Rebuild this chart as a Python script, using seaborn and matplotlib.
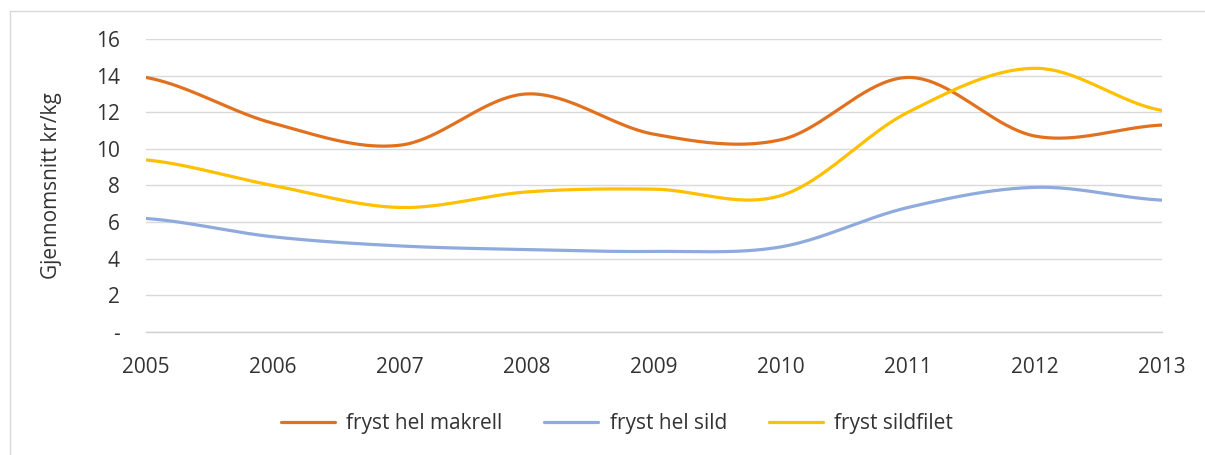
import numpy as np
import pandas as pd
import matplotlib
matplotlib.use("Agg")
import matplotlib.pyplot as plt
import seaborn as sns
from matplotlib.lines import Line2D

# Data
years = [2005, 2006, 2007, 2008, 2009, 2010, 2011, 2012, 2013]
makrell = [13.9, 11.4, 10.2, 13.0, 10.8, 10.5, 13.9, 10.7, 11.3]
sild = [6.2, 5.2, 4.7, 4.5, 4.4, 4.65, 6.8, 7.9, 7.2]
sildfilet = [9.4, 8.0, 6.8, 7.65, 7.8, 7.45, 12.0, 14.4, 12.1]
series_names = ["fryst hel makrell", "fryst hel sild", "fryst sildfilet"]
y_ticks = [0, 2, 4, 6, 8, 10, 12, 14, 16]
y_ticklabels = ["-", "2", "4", "6", "8", "10", "12", "14", "16"]
colors = ["#E2711F", "#8FAADC", "#FFC000"]


def smooth(x, y, n=40):
    # Excel-style smoothed line (Catmull-Rom / cubic Bezier through the points)
    x = np.asarray(x, float)
    y = np.asarray(y, float)
    px = np.concatenate([[2 * x[0] - x[1]], x, [2 * x[-1] - x[-2]]])
    py = np.concatenate([[y[0]], y, [y[-1]]])
    xs, ys = [], []
    t = np.linspace(0, 1, n, endpoint=False)
    for i in range(1, len(x)):
        x0, x1, x2, x3 = px[i - 1], px[i], px[i + 1], px[i + 2]
        y0, y1, y2, y3 = py[i - 1], py[i], py[i + 1], py[i + 2]
        c1x, c1y = x1 + (x2 - x0) / 6, y1 + (y2 - y0) / 6
        c2x, c2y = x2 - (x3 - x1) / 6, y2 - (y3 - y1) / 6
        b = [(1 - t) ** 3, 3 * (1 - t) ** 2 * t, 3 * (1 - t) * t ** 2, t ** 3]
        xs.append(b[0] * x1 + b[1] * c1x + b[2] * c2x + b[3] * x2)
        ys.append(b[0] * y1 + b[1] * c1y + b[2] * c2y + b[3] * y2)
    xs.append([x[-1]])
    ys.append([y[-1]])
    return np.concatenate(xs), np.concatenate(ys)


sns.set_style("white")
plt.rcParams["font.family"] = ["Open Sans", "DejaVu Sans"]
text_color = "#333333"
fs = 15

fig = plt.figure(figsize=(12.05, 4.55), dpi=100)
ax = fig.add_axes([146 / 1205, 1 - 332 / 455, (1162 - 146) / 1205, (332 - 39) / 455])

frames = []
for name, vals in zip(series_names, [makrell, sild, sildfilet]):
    sx, sy = smooth(years, vals)
    frames.append(pd.DataFrame({"year": sx, "value": sy, "series": name}))
df = pd.concat(frames, ignore_index=True)

sns.lineplot(data=df, x="year", y="value", hue="series", palette=colors,
             hue_order=series_names, linewidth=2.3, sort=False, ax=ax, legend=False)

ax.set_xlim(years[0], years[-1])
ax.set_ylim(0, 16)
ax.set_xticks(years)
ax.set_xticklabels([str(y) for y in years])
ax.set_yticks(y_ticks)
ax.set_yticklabels(y_ticklabels)
ax.tick_params(axis="both", length=0, labelsize=fs, colors=text_color)
ax.tick_params(axis="y", pad=19)
ax.tick_params(axis="x", pad=18)
ax.grid(axis="y", color="#D9D9D9", linewidth=1.0)
ax.set_axisbelow(True)
for s in ["left", "right", "top"]:
    ax.spines[s].set_visible(False)
ax.spines["bottom"].set_color("#D0D0D0")
ax.spines["bottom"].set_linewidth(1.0)
ax.set_xlabel("")
ax.set_ylabel("Gjennomsnitt kr/kg", fontsize=fs, color=text_color)
ax.yaxis.set_label_coords(-0.083, 0.5)

handles = [Line2D([0], [0], color=c, linewidth=2.3) for c in colors]
fig.legend(handles, series_names, loc="center", bbox_to_anchor=(0.512, 1 - 424 / 455),
           ncol=3, frameon=False, fontsize=fs, handlelength=2.6, handletextpad=0.55,
           columnspacing=2.0, labelcolor=text_color)

# outer chart border (top and left edges visible)
fig.add_artist(Line2D([10 / 1205, 1.0], [1 - 11 / 455, 1 - 11 / 455],
                      transform=fig.transFigure, color="#D9D9D9", linewidth=1.0))
fig.add_artist(Line2D([10 / 1205, 10 / 1205], [0.0, 1 - 11 / 455],
                      transform=fig.transFigure, color="#D9D9D9", linewidth=1.0))

fig.savefig("out.png", dpi=100, facecolor="white")
